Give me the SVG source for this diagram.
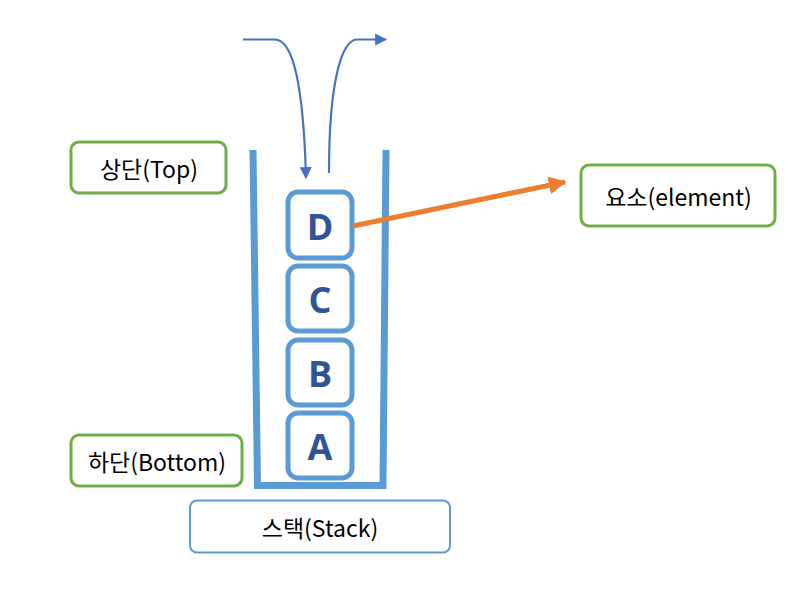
<svg xmlns="http://www.w3.org/2000/svg" width="809" height="602" viewBox="0 0 809 602">
<defs>
<style>
.lbl{font-family:"Noto Sans CJK KR","Noto Sans",sans-serif;font-size:23px;fill:#000;text-anchor:middle;dominant-baseline:central}
.g{fill:#fff;stroke:#70AD47;stroke-width:3}
.item rect{fill:#fff;stroke:#5B9BD5;stroke-width:5}
.item text{font-family:"Open Sans","Noto Sans",sans-serif;font-weight:bold;font-size:36px;fill:#2F5597;text-anchor:middle;dominant-baseline:central}
.flow{fill:none;stroke:#4472C4;stroke-width:2.2}
</style>
<marker id="ab" viewBox="0 0 10 10" refX="9" refY="5" markerWidth="5.5" markerHeight="5.5" orient="auto" markerUnits="strokeWidth"><path d="M0,0 L10,5 L0,10 z" fill="#4472C4"/></marker>
<marker id="ao" viewBox="0 0 10 10" refX="9" refY="5" markerWidth="3.6" markerHeight="3.6" orient="auto" markerUnits="strokeWidth"><path d="M0,0 L10,5 L0,10 z" fill="#ED7D31"/></marker>
</defs>
<rect width="809" height="602" fill="#fff"/>
<g id="container">
<path d="M253,150 L257.5,485.5 L383,485.5 L386,150" fill="none" stroke="#5B9BD5" stroke-width="7"/>
</g>
<g id="nodeA" class="item"><rect x="288" y="413" width="64" height="65" rx="10"/><text x="320" y="446">A</text></g>
<g id="nodeB" class="item"><rect x="288" y="340" width="64" height="65" rx="10"/><text x="320" y="373">B</text></g>
<g id="nodeC" class="item"><rect x="288" y="266" width="64" height="65" rx="10"/><text x="320" y="299">C</text></g>
<g id="nodeD" class="item"><rect x="288" y="192" width="64" height="66" rx="10"/><text x="320" y="226">D</text></g>
<g id="top"><rect class="g" x="71" y="142" width="155" height="51" rx="8"/><text class="lbl" x="149" y="167.5">상단(Top)</text></g>
<g id="bottom"><rect class="g" x="71" y="435" width="171" height="51" rx="8"/><text class="lbl" x="157" y="460.5">하단(Bottom)</text></g>
<g id="element"><rect class="g" x="581" y="165" width="194" height="61" rx="8"/><text class="lbl" x="678.5" y="195.5">요소(element)</text></g>
<g id="stack"><rect x="190" y="500.5" width="260" height="52" rx="7" fill="#fff" stroke="#5B9BD5" stroke-width="2"/><text class="lbl" x="320" y="526.5">스택(Stack)</text></g>
<g id="connectors">
<path class="flow" d="M243,39.5 L275,39.5 C290,40 303,70 306,178" marker-end="url(#ab)"/>
<path class="flow" d="M329,173 C329,80 342,40 357,39.5 L386,39.5" marker-end="url(#ab)"/>
<line x1="353" y1="226" x2="565" y2="182" stroke="#ED7D31" stroke-width="5" marker-end="url(#ao)"/>
</g>
</svg>
